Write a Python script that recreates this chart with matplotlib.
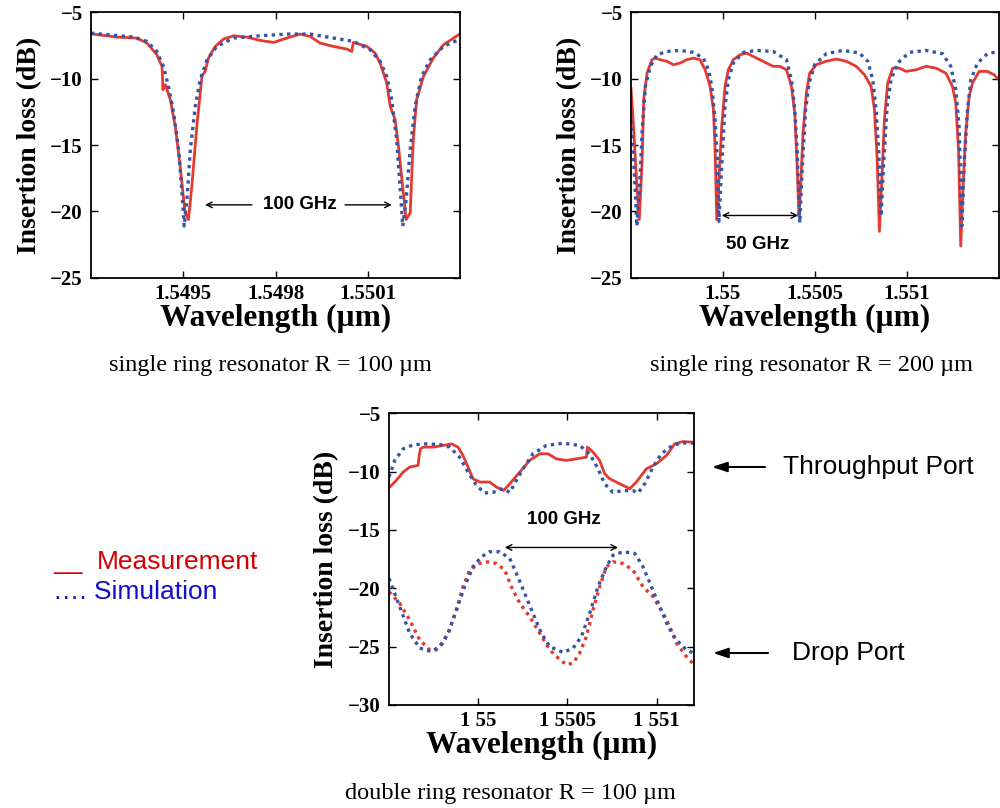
import matplotlib
matplotlib.use('Agg')
import matplotlib.pyplot as plt

# ---- data (wavelength in um, insertion loss in dB) ----

# single ring R = 100 um
tl_meas_wl = [1.549200, 1.549284, 1.549349, 1.549382, 1.549414, 1.549431, 1.549434, 1.549442, 1.549458, 1.549474,
              1.549490, 1.549499, 1.549506, 1.549517, 1.549528, 1.549544, 1.549561, 1.549571, 1.549582, 1.549604,
              1.549631, 1.549664, 1.549707, 1.549750, 1.549794, 1.549837, 1.549880, 1.549913, 1.549945, 1.549988,
              1.550032, 1.550048, 1.550053, 1.550097, 1.550124, 1.550140, 1.550162, 1.550173, 1.550189, 1.550200,
              1.550210, 1.550218, 1.550225, 1.550238, 1.550248, 1.550259, 1.550281, 1.550313, 1.550346, 1.550400]
tl_meas_il = [-6.63, -6.88, -6.95, -7.33, -8.2, -9.1, -10.84, -10.46, -11.6, -13.6,
              -16.6, -18.6, -20.1, -20.6, -18.1, -13.6, -9.8, -9.46, -8.46, -7.58,
              -7.03, -6.78, -6.88, -7.13, -7.28, -6.95, -6.65, -6.83, -7.33, -7.58,
              -7.78, -7.96, -7.28, -7.58, -8.08, -8.83, -10.34, -12.09, -13.1, -15.1,
              -17.36, -19.1, -20.6, -20.1, -14.6, -11.6, -9.84, -8.46, -7.46, -6.63]
tl_sim_wl = [1.549200, 1.549339, 1.549382, 1.549414, 1.549436, 1.549452, 1.549469, 1.549485, 1.549496, 1.549503,
             1.549512, 1.549523, 1.549539, 1.549555, 1.549577, 1.549609, 1.549664, 1.549750, 1.549837, 1.549913,
             1.549988, 1.550053, 1.550108, 1.550140, 1.550162, 1.550178, 1.550194, 1.550205, 1.550214, 1.550225,
             1.550238, 1.550254, 1.550275, 1.550303, 1.550346, 1.550400]
tl_sim_il = [-6.58, -6.88, -7.2, -7.96, -9.1, -10.6, -12.6, -15.35, -18.6, -21.1,
             -19.1, -15.35, -12.1, -10.1, -8.6, -7.58, -6.95, -6.78, -6.65, -6.65,
             -6.95, -7.2, -7.83, -8.7, -9.84, -11.6, -14.6, -18.1, -21.1, -19.1,
             -15.35, -12.1, -9.84, -8.58, -7.58, -7.03]

# single ring R = 200 um
tr_meas_wl = [1.549500, 1.549514, 1.549532, 1.549545, 1.549560, 1.549569, 1.549587, 1.549614, 1.549632, 1.549659,
              1.549695, 1.549731, 1.549767, 1.549803, 1.549839, 1.549875, 1.549903, 1.549930, 1.549948, 1.549957,
              1.549966, 1.549978, 1.549993, 1.550011, 1.550029, 1.550056, 1.550092, 1.550128, 1.550164, 1.550200,
              1.550236, 1.550273, 1.550309, 1.550345, 1.550372, 1.550390, 1.550403, 1.550413, 1.550422, 1.550435,
              1.550453, 1.550471, 1.550507, 1.550561, 1.550615, 1.550670, 1.550724, 1.550769, 1.550805, 1.550823,
              1.550838, 1.550850, 1.550865, 1.550877, 1.550895, 1.550922, 1.550958, 1.550995, 1.551049, 1.551103,
              1.551157, 1.551211, 1.551247, 1.551265, 1.551280, 1.551292, 1.551305, 1.551319, 1.551338, 1.551356,
              1.551392, 1.551437, 1.551473, 1.551500]
tr_meas_il = [-10.71, -13.6, -18.1, -20.6, -16.35, -11.6, -9.59, -8.58, -8.46, -8.58,
              -8.7, -8.96, -8.83, -8.58, -8.46, -8.58, -9.34, -10.59, -12.34, -15.35,
              -20.6, -17.6, -13.6, -10.59, -9.34, -8.58, -8.21, -8.08, -8.33, -8.58,
              -8.83, -9.08, -9.08, -9.34, -10.59, -12.59, -16.6, -20.36, -18.1, -14.1,
              -11.09, -9.59, -8.96, -8.7, -8.53, -8.7, -9.08, -9.71, -10.59, -12.34,
              -16.1, -21.5, -17.1, -13.1, -10.34, -9.21, -9.21, -9.46, -9.34, -9.08,
              -9.21, -9.59, -10.59, -11.84, -15.35, -22.6, -18.1, -14.1, -11.34, -10.34,
              -9.46, -9.46, -9.71, -10.09]
tr_sim_wl = [1.549500, 1.549518, 1.549532, 1.549547, 1.549560, 1.549578, 1.549605, 1.549641, 1.549695, 1.549767,
             1.549839, 1.549893, 1.549921, 1.549939, 1.549957, 1.549969, 1.549978, 1.549993, 1.550011, 1.550029,
             1.550056, 1.550110, 1.550182, 1.550273, 1.550345, 1.550372, 1.550390, 1.550403, 1.550417, 1.550431,
             1.550449, 1.550468, 1.550498, 1.550561, 1.550652, 1.550742, 1.550787, 1.550814, 1.550832, 1.550847,
             1.550859, 1.550874, 1.550892, 1.550913, 1.550949, 1.551013, 1.551103, 1.551193, 1.551238, 1.551265,
             1.551283, 1.551298, 1.551312, 1.551329, 1.551347, 1.551383, 1.551437, 1.551500]
tr_sim_il = [-13.1, -17.1, -21.1, -18.1, -14.1, -10.59, -9.08, -8.21, -7.96, -7.88,
             -8.03, -8.46, -9.34, -10.59, -13.1, -16.1, -20.74, -16.6, -12.09, -10.09,
             -8.83, -8.03, -7.88, -7.96, -8.58, -10.09, -12.34, -15.35, -20.86, -16.6,
             -12.34, -10.34, -8.96, -8.13, -7.88, -8.08, -8.7, -10.09, -12.34, -15.6,
             -20.36, -16.1, -12.09, -10.09, -8.83, -8.03, -7.88, -8.13, -9.08, -10.84,
             -13.6, -21.1, -16.1, -12.34, -10.09, -8.83, -8.13, -7.96]

# double ring R = 100 um, throughput port
thru_meas_wl = [1.549500, 1.549541, 1.549579, 1.549616, 1.549663, 1.549668, 1.549676, 1.549691, 1.549747, 1.549803,
                1.549850, 1.549887, 1.549915, 1.549943, 1.549971, 1.550008, 1.550064, 1.550102, 1.550143, 1.550177,
                1.550233, 1.550289, 1.550345, 1.550392, 1.550438, 1.550494, 1.550551, 1.550607, 1.550612, 1.550644,
                1.550681, 1.550709, 1.550737, 1.550793, 1.550850, 1.550887, 1.550943, 1.550999, 1.551055, 1.551102,
                1.551149, 1.551209]
thru_meas_il = [-11.38, -10.75, -10.04, -9.61, -9.47, -8.76, -8.05, -7.9, -7.9, -7.76,
                -7.62, -7.9, -8.62, -9.61, -10.61, -10.89, -10.89, -11.32, -11.61, -11.04,
                -10.04, -9.04, -8.47, -8.47, -8.9, -9.04, -8.9, -8.76, -7.9, -8.33,
                -9.04, -10.18, -10.61, -11.04, -11.46, -10.89, -9.76, -9.33, -8.62, -7.62,
                -7.42, -7.48]
thru_sim_wl = [1.549500, 1.549532, 1.549579, 1.549635, 1.549709, 1.549784, 1.549840, 1.549896, 1.549943, 1.549990,
               1.550036, 1.550083, 1.550139, 1.550177, 1.550214, 1.550251, 1.550307, 1.550382, 1.550476, 1.550569,
               1.550625, 1.550672, 1.550709, 1.550756, 1.550812, 1.550868, 1.550896, 1.550934, 1.550980, 1.551027,
               1.551093, 1.551149, 1.551209]
thru_sim_il = [-10.47, -9.04, -8.05, -7.71, -7.62, -7.68, -7.9, -8.76, -10.04, -11.18,
               -11.83, -11.78, -11.46, -11.78, -10.75, -9.76, -8.47, -7.76, -7.56, -7.76,
               -8.47, -9.76, -11.04, -11.78, -11.63, -11.63, -11.83, -11.04, -9.61, -8.47,
               -7.71, -7.54, -7.56]

# double ring R = 100 um, drop port
drop_meas_wl = [1.549500, 1.549560, 1.549616, 1.549672, 1.549728, 1.549765, 1.549803, 1.549840, 1.549878, 1.549915,
                1.549952, 1.550008, 1.550055, 1.550102, 1.550149, 1.550186, 1.550233, 1.550289, 1.550345, 1.550401,
                1.550448, 1.550494, 1.550532, 1.550569, 1.550607, 1.550644, 1.550681, 1.550719, 1.550756, 1.550812,
                1.550868, 1.550924, 1.550980, 1.551037, 1.551074, 1.551111, 1.551167, 1.551209]
drop_meas_il = [-20.29, -21.29, -22.71, -24.42, -25.27, -25.27, -24.7, -23.56, -21.86, -19.86,
                -18.44, -17.87, -17.73, -17.87, -18.44, -19.86, -21.29, -22.43, -23.85, -25.27,
                -25.98, -26.55, -26.41, -25.56, -24.13, -21.86, -19.86, -18.15, -17.73, -17.87,
                -18.44, -19.86, -20.71, -22.14, -23.28, -24.7, -25.84, -26.55]
drop_sim_wl = [1.549500, 1.549560, 1.549616, 1.549672, 1.549737, 1.549784, 1.549831, 1.549878, 1.549924, 1.549971,
               1.550018, 1.550064, 1.550121, 1.550177, 1.550214, 1.550261, 1.550307, 1.550354, 1.550401, 1.550476,
               1.550532, 1.550579, 1.550625, 1.550672, 1.550719, 1.550756, 1.550812, 1.550878, 1.550924, 1.550971,
               1.551018, 1.551065, 1.551111, 1.551167, 1.551209]
drop_sim_il = [-19.15, -21.57, -23.85, -25.13, -25.42, -24.99, -23.85, -21.86, -19.86, -18.15,
               -17.3, -16.87, -16.87, -17.44, -18.72, -20.43, -22.14, -23.85, -24.99, -25.5,
               -25.13, -24.13, -22.14, -19.86, -18.15, -17.16, -16.87, -17.01, -18.15, -19.86,
               -21.57, -23.28, -24.42, -25.27, -25.56]

tl_ticks = [1.5495, 1.5498, 1.5501]
tl_ticklabels = ['1.5495', '1.5498', '1.5501']
tr_ticks = [1.5500, 1.5505, 1.5510]
tr_ticklabels = ['1.55', '1.5505', '1.551']
bt_ticks = [1.5500, 1.5505, 1.5510]
bt_ticklabels = ['1 55', '1 5505', '1 551']

# ---- style ----
RED = '#e53a2f'
BLUE = '#3555a8'
DOT = (0, (1, 1.3))

plt.rcParams['font.family'] = 'Liberation Serif'
plt.rcParams['font.weight'] = 'bold'


def style_axes(ax, xlim, xticks, xlabels, ylim, yticks):
    ax.set_xlim(xlim)
    ax.set_ylim(ylim)
    ax.set_xticks(xticks)
    ax.set_xticklabels(xlabels)
    ax.set_yticks(yticks)
    ax.tick_params(direction='in', top=True, right=True, length=5, width=1, labelsize=15)
    ax.tick_params(axis='x', pad=4)
    ax.tick_params(axis='y', pad=6)
    for sp in ax.spines.values():
        sp.set_linewidth(1.3)
    ax.set_xlabel('Wavelength (µm)', fontsize=22.5, fontweight='bold', labelpad=0)
    ax.set_ylabel('Insertion loss (dB)', fontsize=20, fontweight='bold', labelpad=6)


def one_arrow(ax, tail, head, y):
    ax.annotate('', xy=(head, y), xytext=(tail, y),
                arrowprops=dict(arrowstyle='->', color='black', lw=1, shrinkA=0, shrinkB=0))


fig = plt.figure(figsize=(10, 8.08), dpi=100)

# top left
ax1 = fig.add_axes([0.091, 0.656, 0.369, 0.329])
ax1.plot(tl_meas_wl, tl_meas_il, color=RED, lw=2.0)
ax1.plot(tl_sim_wl, tl_sim_il, color=BLUE, lw=2.4, linestyle=DOT)
style_axes(ax1, (1.5492, 1.5504), tl_ticks, tl_ticklabels, (-25, -5), [-25, -20, -15, -10, -5])
ax1.text(1.54988, -19.5, '100 GHz', family='Liberation Sans', fontsize=13.5, weight='bold',
         ha='center', va='center')
one_arrow(ax1, 1.549723, 1.549571, -19.5)
one_arrow(ax1, 1.550026, 1.550178, -19.5)

# top right
ax2 = fig.add_axes([0.631, 0.656, 0.368, 0.329])
ax2.plot(tr_meas_wl, tr_meas_il, color=RED, lw=2.0)
ax2.plot(tr_sim_wl, tr_sim_il, color=BLUE, lw=2.4, linestyle=DOT)
style_axes(ax2, (1.5495, 1.5515), tr_ticks, tr_ticklabels, (-25, -5), [-25, -20, -15, -10, -5])
ax2.annotate('', xy=(1.549993, -20.3), xytext=(1.550408, -20.3),
             arrowprops=dict(arrowstyle='<->', color='black', lw=1, shrinkA=0, shrinkB=0))
ax2.text(1.550191, -22.5, '50 GHz', family='Liberation Sans', fontsize=13.5, weight='bold',
         ha='center', va='center')

# bottom
ax3 = fig.add_axes([0.389, 0.1275, 0.305, 0.361])
ax3.plot(thru_meas_wl, thru_meas_il, color=RED, lw=2.0)
ax3.plot(thru_sim_wl, thru_sim_il, color=BLUE, lw=2.4, linestyle=DOT)
ax3.plot(drop_meas_wl, drop_meas_il, color=RED, lw=2.4, linestyle=DOT)
ax3.plot(drop_sim_wl, drop_sim_il, color=BLUE, lw=2.4, linestyle=DOT)
style_axes(ax3, (1.5495, 1.55121), bt_ticks, bt_ticklabels, (-30, -5), [-30, -25, -20, -15, -10, -5])
ax3.annotate('', xy=(1.550149, -16.5), xytext=(1.550784, -16.5),
             arrowprops=dict(arrowstyle='<->', color='black', lw=1, shrinkA=0, shrinkB=0))
ax3.text(1.550481, -14.1, '100 GHz', family='Liberation Sans', fontsize=13.5, weight='bold',
         ha='center', va='center')

# captions
cap = dict(family='Liberation Serif', weight='normal', fontsize=17.5, ha='center', va='center')
fig.text(0.270, 1 - 366 / 808, 'single ring resonator R = 100 µm', **cap)
fig.text(0.811, 1 - 366 / 808, 'single ring resonator R = 200 µm', **cap)
fig.text(0.510, 1 - 793 / 808, 'double ring resonator R = 100 µm', **cap)

# legend texts
fig.text(0.053, 1 - 569 / 808, '__', color='#d40000', family='Liberation Sans', weight='normal',
         fontsize=19, va='baseline')
fig.text(0.097, 1 - 569 / 808, 'Measurement', color='#d40000', family='Liberation Sans', weight='normal',
         fontsize=19, va='baseline')
fig.text(0.053, 1 - 599 / 808, '\u2026. Simulation', color='#1010cc', family='Liberation Sans',
         weight='normal', fontsize=19, va='baseline')

# port labels
port_arrow = dict(arrowstyle='-|>,head_length=0.9,head_width=0.3', color='black', lw=1.5,
                  shrinkA=0, shrinkB=0)
fig.add_artist(plt.Annotation('', xy=(0.712, 1 - 467 / 808), xytext=(0.765, 1 - 467 / 808),
                              xycoords='figure fraction', textcoords='figure fraction',
                              arrowprops=port_arrow))
fig.text(0.783, 1 - 467 / 808, 'Throughput Port', family='Liberation Sans', weight='normal',
         fontsize=19, va='center')
fig.add_artist(plt.Annotation('', xy=(0.713, 1 - 653 / 808), xytext=(0.768, 1 - 653 / 808),
                              xycoords='figure fraction', textcoords='figure fraction',
                              arrowprops=port_arrow))
fig.text(0.792, 1 - 653 / 808, 'Drop Port', family='Liberation Sans', weight='normal',
         fontsize=19, va='center')

fig.savefig('out.png', dpi=100)
